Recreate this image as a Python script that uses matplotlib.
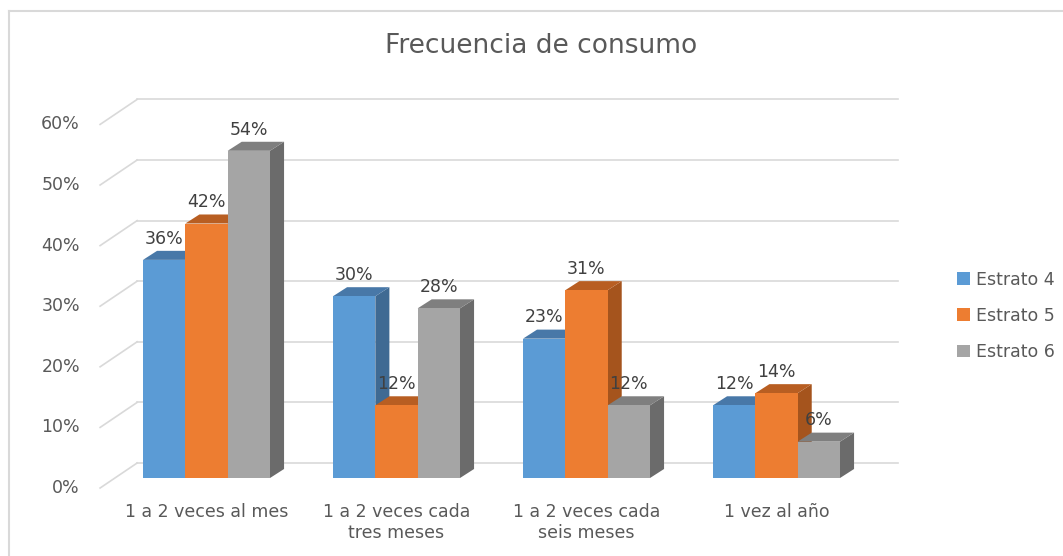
import matplotlib.pyplot as plt
from matplotlib.patches import Polygon, Patch
from matplotlib.lines import Line2D

categories = ['1 a 2 veces al mes', '1 a 2 veces cada\ntres meses',
              '1 a 2 veces cada\nseis meses', '1 vez al año']
series = ['Estrato 4', 'Estrato 5', 'Estrato 6']
estrato4 = [36, 30, 23, 12]
estrato5 = [42, 12, 31, 14]
estrato6 = [54, 28, 12, 6]
yticks = [0, 10, 20, 30, 40, 50, 60]

front = ['#5B9BD5', '#ED7D31', '#A5A5A5']
top = ['#4878A8', '#B85E22', '#7F7F7F']
side = ['#3F6A93', '#A5541D', '#6B6B6B']
txt = '#595959'
grid = '#D9D9D9'

fig = plt.figure(figsize=(10.63, 5.56), dpi=100)
W, H = 1063, 556
ax = fig.add_axes([92.5 / W, (H - 496.2) / H, 817 / W, 406 / H])
ax.set_xlim(-0.6, 3.7)
ax.set_ylim(-3, 64)
ax.axis('off')

# 3D-like offsets (data units)
wall_dx, wall_dy = 0.195, 2.48      # back wall relative to bar front plane
floor_dy = -1.65                    # front edge of floor
floor_x = -0.56
bar_dx, bar_dy = 0.074, 1.49
w = 0.2228

# gridlines: side wall diagonal + back wall horizontal
for g in yticks:
    ax.plot([floor_x, floor_x + wall_dx], [g + floor_dy, g + wall_dy],
            color=grid, lw=1.2, zorder=1, clip_on=False)
    ax.plot([floor_x + wall_dx, 3.64], [g + wall_dy, g + wall_dy],
            color=grid, lw=1.2, zorder=1, clip_on=False)
    ax.text(-0.666, g + floor_dy, f'{g}%', ha='right', va='center',
            fontsize=12.5, color=txt)

z = 2
for i in range(len(categories)):
    for j, vals in enumerate([estrato4, estrato5, estrato6]):
        h = vals[i]
        xl = i - 1.5 * w + j * w
        xr = xl + w
        # side face
        ax.add_patch(Polygon([(xr, 0), (xr + bar_dx, bar_dy), (xr + bar_dx, h + bar_dy), (xr, h)],
                             closed=True, facecolor=side[j], edgecolor='none', zorder=z))
        # top face
        ax.add_patch(Polygon([(xl, h), (xr, h), (xr + bar_dx, h + bar_dy), (xl + bar_dx, h + bar_dy)],
                             closed=True, facecolor=top[j], edgecolor='none', zorder=z))
        # front face
        ax.add_patch(Polygon([(xl, 0), (xr, 0), (xr, h), (xl, h)],
                             closed=True, facecolor=front[j], edgecolor='none', zorder=z))
        ax.text(xl + w / 2, h + 3.5, f'{h}%', ha='center', va='center',
                fontsize=12.5, color='#404040', zorder=20)
        z += 1
    ax.text(i, -4.1, categories[i], ha='center', va='top', fontsize=12.5,
            color=txt, linespacing=1.25)

fig.text(541.5 / W, 1 - 46 / H, 'Frecuencia de consumo', ha='center', va='center',
         fontsize=19, color=txt)

handles = [Patch(facecolor=c, edgecolor='none') for c in front]
fig.legend(handles, series, loc='upper left', bbox_to_anchor=(941 / W, 1 - 255 / H),
           frameon=False, fontsize=12.5, labelcolor=txt, handlelength=0.75,
           handleheight=0.75, handletextpad=0.35, labelspacing=1.05)

# chart border (top and left visible)
fig.add_artist(Line2D([9 / W, 9 / W], [0, 1 - 11 / H], color=grid, lw=1.5))
fig.add_artist(Line2D([9 / W, 1], [1 - 11 / H, 1 - 11 / H], color=grid, lw=1.5))

fig.savefig('out.png', dpi=100)
